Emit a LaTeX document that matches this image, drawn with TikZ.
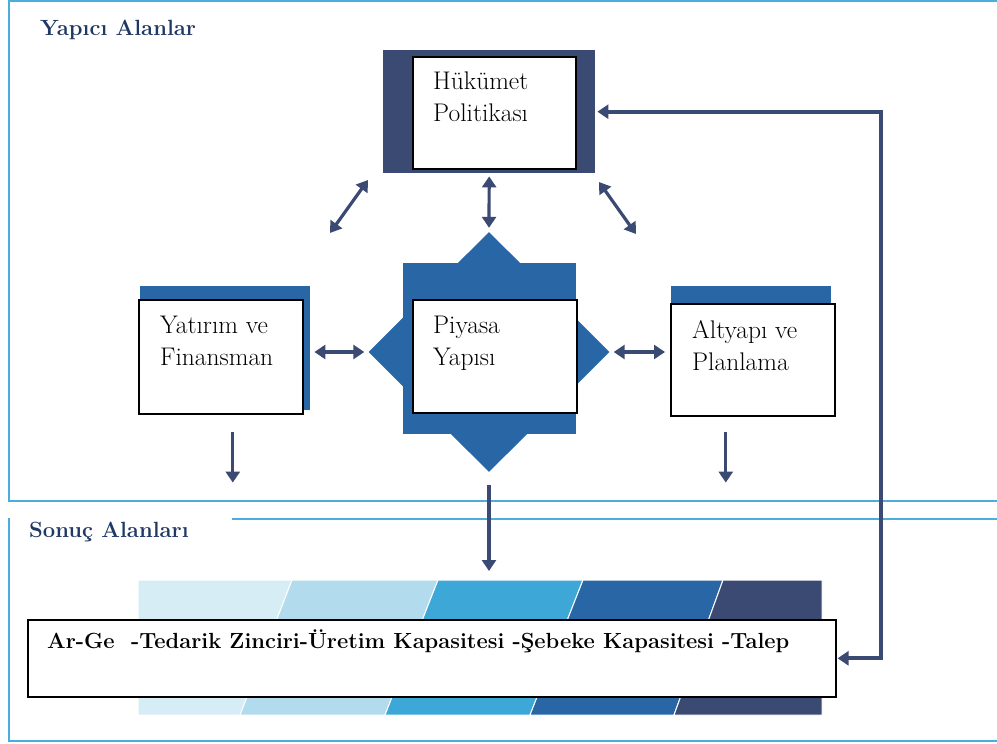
\documentclass[tikz,border=0pt]{standalone}
\usepackage{fontspec}
\usepackage{tikz}
\usetikzlibrary{positioning,calc,arrows.meta,shapes.geometric}

\definecolor{framecol}{RGB}{75,172,221}
\definecolor{navy}{RGB}{59,74,114}
\definecolor{midblue}{RGB}{40,102,166}
\definecolor{titlecol}{RGB}{31,56,100}
\definecolor{bandone}{RGB}{214,237,246}
\definecolor{bandtwo}{RGB}{178,219,237}
\definecolor{bandthree}{RGB}{61,168,216}

\tikzset{
  backbar/.style={fill=#1, draw=none, inner sep=0pt, anchor=north west},
  whitebox/.style={fill=white, draw=black, line width=1.6pt, inner sep=0pt, anchor=north west},
  boxtext/.style={anchor=north west, inner sep=0pt, align=left, font={\fontsize{25.5}{32}\selectfont}},
  title/.style={anchor=base west, inner sep=0pt, text=titlecol, font={\fontsize{22}{26}\selectfont\bfseries}},
  biarrow/.style={navy, line width=3.2pt, {Triangle[length=11pt,width=14pt]}-{Triangle[length=11pt,width=14pt]}},
  downarrow/.style={navy, line width=3.2pt, -{Triangle[length=11pt,width=14pt]}},
  fbline/.style={navy, line width=4pt, {Triangle[length=11pt,width=14pt]}-{Triangle[length=11pt,width=14pt]}},
  frameline/.style={framecol, line width=2.5pt}
}

\begin{document}
\begin{tikzpicture}[x=1pt,y=-1pt]
	\useasboundingbox (0,0) rectangle (997,744);

	% frames
	\draw[frameline] (997,1) -- (9,1) -- (9,501) -- (997,501);
	\draw[frameline] (232,519) -- (997,519);
	\draw[frameline] (9,518) -- (9,741) -- (997,741);
	\node[title] (ytitle) at (40,35) {Yapıcı Alanlar};
	\node[title] (stitle) at (29,537) {Sonuç Alanları};

	% Hükümet Politikası
	\node[backbar=navy, minimum width=212pt, minimum height=123pt] (hukback) at (383,50) {};
	\node[whitebox, minimum width=163pt, minimum height=112pt] (hukbox) at (412,56) {};
	\node[boxtext] (hukt) at (433,72) {Hükümet\\Politikası};

	% Piyasa Yapısı
	\node[diamond, fill=midblue, inner sep=0pt, minimum width=241pt, minimum height=240pt] (piydia) at (489,352) {};
	\node[backbar=midblue, minimum width=173pt, minimum height=171pt] (piysq) at (403,263) {};
	\node[whitebox, minimum width=164pt, minimum height=113pt] (piybox) at (412,299) {};
	\node[boxtext] (piyt) at (433,316) {Piyasa\\Yapısı};

	% Yatırım ve Finansman
	\node[backbar=midblue, minimum width=170pt, minimum height=124pt] (yatback) at (140,286) {};
	\node[whitebox, minimum width=164pt, minimum height=114pt] (yatbox) at (138,299) {};
	\node[boxtext] (yatt) at (160,316) {Yatırım ve\\Finansman};

	% Altyapı ve Planlama
	\node[backbar=midblue, minimum width=160pt, minimum height=60pt] (altback) at (671,286) {};
	\node[whitebox, minimum width=164pt, minimum height=112pt] (altbox) at (670,303) {};
	\node[boxtext] (altt) at (692,320) {Altyapı ve\\Planlama};

	% arrows
	\coordinate (hy1) at (368,180);
	\coordinate (hy2) at (330,233);
	\coordinate (ha1) at (599,182);
	\coordinate (ha2) at (636,234);
	\draw[biarrow] (hy1) -- (hy2);
	\draw[biarrow] (ha1) -- (ha2);
	\draw[biarrow, shorten <=3pt, shorten >=4pt] (hukback.south) -- (piydia.north);
	\draw[biarrow, shorten <=4pt, shorten >=4pt] (piydia.west -| yatback.east) -- (piydia.west);
	\draw[biarrow, shorten <=4pt, shorten >=5pt] (piydia.east) -- (piydia.east -| altbox.west);
	\draw[downarrow] ($(yatbox.south)+(12,17)$) -- ++(0,51);
	\draw[downarrow] ($(altbox.south)+(-27,15)$) -- ++(0,51);

	% Sonuç band
	\foreach \tl/\tr/\br/\bl/\col in {138/292/240/138/bandone, 292/438/385/240/bandtwo, 438/583/530/385/bandthree, 583/723/674/530/midblue, 723/822/822/674/navy}
		\filldraw[fill=\col, draw=white, line width=1pt] (\tl,580) -- (\tr,580) -- (\br,715) -- (\bl,715) -- cycle;
	\coordinate (bandtop) at (489,580);
	\draw[downarrow, shorten <=13pt, shorten >=9pt] (piydia.south) -- (bandtop);

	\node[whitebox, minimum width=808pt, minimum height=77pt] (resbox) at (27,619) {};
	\node[anchor=base west, inner sep=0pt, font={\fontsize{21.9}{25}\selectfont\bfseries}] (rest) at (47,648) {Ar-Ge\ \ -Tedarik Zinciri-Üretim Kapasitesi -Şebeke Kapasitesi -Talep};

	% feedback
	\draw[fbline, shorten <=2pt, shorten >=1pt] (hukback.east) -| ($(resbox.east)+(44,0)$) -- (resbox.east);
\end{tikzpicture}
\end{document}
